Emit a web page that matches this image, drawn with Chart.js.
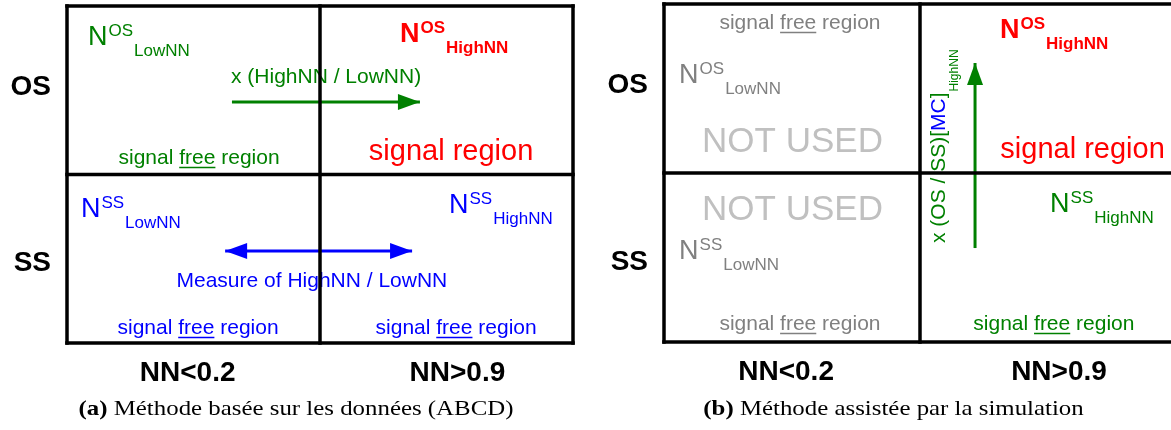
<!DOCTYPE html>
<html><head><meta charset="utf-8">
<script src="https://cdn.jsdelivr.net/npm/chart.js@4/dist/chart.umd.min.js"></script>
<style>
html,body{margin:0;padding:0;background:#fff;overflow:hidden;width:1171px;height:430px;}
#ca{position:absolute;left:0;top:0;}
#cb{position:absolute;left:590px;top:0;}
</style></head><body>
<canvas id="ca" width="590" height="430"></canvas>
<canvas id="cb" width="600" height="430"></canvas>
<script>
// ---------- data ----------
const nnCategories = ['NN<0.2', 'NN>0.9'];
const chargeCategories = ['SS', 'OS'];
const cellEdges = [0, 1, 2];
const captionA = ['(a)', 'Méthode basée sur les données (ABCD)'];
const captionB = ['(b)', 'Méthode assistée par la simulation'];
// arrows (data units of the 2x2 grid)
const arrowExtrapolateA = [{x: 0.652, y: 1.43}, {x: 1.395, y: 1.43}];
const arrowMeasureA = [{x: 0.625, y: 0.546}, {x: 1.364, y: 0.546}];
const arrowExtrapolateB = [{x: 1.215, y: 0.556}, {x: 1.215, y: 1.651}];

// ---------- styling / placement ----------
const SANS = '"Liberation Sans", Arial, Helvetica, sans-serif';
const SERIF = '"Liberation Serif", "Times New Roman", serif';
const GREEN = '#008000', RED = '#ff0000', BLUE = '#0000ff', GRAY = '#808080', LIGHT = '#c0c0c0';
const xTickAt = [0.477, 1.543];
const yTickAt = [0.474, 1.52];

const annotationsA = [
  {t: 'N', x: 0.083, y: 1.769, sup: 'OS', sub: 'LowNN', color: GREEN},
  {t: 'N', x: 1.316, y: 1.786, sup: 'OS', sub: 'HighNN', color: RED, bold: true},
  {t: 'txt', x: 1.024, y: 1.543, text: 'x (HighNN / LowNN)', color: GREEN, size: 21},
  {t: 'sfr', x: 0.522, y: 1.062, color: GREEN},
  {t: 'txt', x: 1.518, y: 1.086, text: 'signal region', color: RED, size: 29},
  {t: 'N', x: 0.055, y: 0.748, sup: 'SS', sub: 'LowNN', color: BLUE},
  {t: 'N', x: 1.510, y: 0.772, sup: 'SS', sub: 'HighNN', color: BLUE},
  {t: 'txt', x: 0.968, y: 0.332, text: 'Measure of HighNN / LowNN', color: BLUE, size: 21},
  {t: 'sfr', x: 0.518, y: 0.053, color: BLUE},
  {t: 'sfr', x: 1.538, y: 0.053, color: BLUE}
];
const annotationsB = [
  {t: 'sfr', x: 0.531, y: 1.852, color: GRAY},
  {t: 'N', x: 0.059, y: 1.533, sup: 'OS', sub: 'LowNN', color: GRAY},
  {t: 'txt', x: 0.502, y: 1.124, text: 'NOT USED', color: LIGHT, size: 35},
  {t: 'txt', x: 0.502, y: 0.722, text: 'NOT USED', color: LIGHT, size: 35},
  {t: 'N', x: 0.059, y: 0.491, sup: 'SS', sub: 'LowNN', color: GRAY},
  {t: 'sfr', x: 0.531, y: 0.071, color: GRAY},
  {t: 'N', x: 1.3125, y: 1.799, sup: 'OS', sub: 'HighNN', color: RED, bold: true},
  {t: 'txt', x: 1.635, y: 1.089, text: 'signal region', color: RED, size: 29},
  {t: 'N', x: 1.508, y: 0.769, sup: 'SS', sub: 'HighNN', color: GREEN},
  {t: 'sfr', x: 1.523, y: 0.071, color: GREEN},
  {t: 'rot', x: 1.098, y: 0.586}
];

function drawN(ctx, px, py, a) {
  const w = a.bold ? 'bold ' : '';
  ctx.fillStyle = a.color; ctx.textAlign = 'left'; ctx.textBaseline = 'alphabetic';
  ctx.font = w + '27px ' + SANS;
  ctx.fillText('N', px, py);
  let x = px + ctx.measureText('N').width + 1;
  ctx.font = w + '17px ' + SANS;
  ctx.fillText(a.sup, x, py - 9);
  x += ctx.measureText(a.sup).width + 1;
  ctx.fillText(a.sub, x, py + 11);
}
function drawSfr(ctx, cx, py, color) {
  ctx.font = '21px ' + SANS; ctx.fillStyle = color; ctx.strokeStyle = color;
  ctx.textAlign = 'left'; ctx.textBaseline = 'alphabetic';
  const parts = ['signal ', 'free', ' region'];
  const ws = parts.map(p => ctx.measureText(p).width);
  let x = cx - (ws[0] + ws[1] + ws[2]) / 2;
  parts.forEach((p, i) => {
    ctx.fillText(p, x, py);
    if (i === 1) {
      ctx.lineWidth = 1.5; ctx.beginPath();
      ctx.moveTo(x, py + 3.5); ctx.lineTo(x + ws[i], py + 3.5); ctx.stroke();
    }
    x += ws[i];
  });
}
function drawRot(ctx, px, py) {
  ctx.save(); ctx.translate(px, py); ctx.rotate(-Math.PI / 2);
  ctx.textAlign = 'left'; ctx.textBaseline = 'alphabetic';
  ctx.font = '21px ' + SANS;
  const parts = [['x (OS / SS)[', GREEN], ['MC', BLUE], [']', GREEN]];
  let x = 0;
  parts.forEach(([s, c]) => { ctx.fillStyle = c; ctx.fillText(s, x, 0); x += ctx.measureText(s).width; });
  ctx.font = '12px ' + SANS; ctx.fillStyle = GREEN;
  ctx.fillText('HighNN', x + 1, 13);
  ctx.restore();
}

const textPlugin = {
  id: 'cellTexts',
  beforeDatasetsDraw(chart, args, opts) {
    const ctx = chart.ctx, sx = chart.scales.x, sy = chart.scales.y;
    ctx.save();
    (opts.items || []).forEach(a => {
      const px = sx.getPixelForValue(a.x), py = sy.getPixelForValue(a.y);
      if (a.t === 'N') drawN(ctx, px, py, a);
      else if (a.t === 'sfr') drawSfr(ctx, px, py, a.color);
      else if (a.t === 'rot') drawRot(ctx, px, py);
      else {
        ctx.font = a.size + 'px ' + SANS; ctx.fillStyle = a.color;
        ctx.textAlign = 'center'; ctx.textBaseline = 'alphabetic';
        ctx.fillText(a.text, px, py);
      }
    });
    ctx.restore();
  },
  afterDatasetsDraw(chart, args, opts) {
    const ctx = chart.ctx, sx = chart.scales.x, sy = chart.scales.y;
    ctx.save();
    ctx.strokeStyle = '#000'; ctx.lineWidth = 3.5; ctx.lineCap = 'square';
    const x0 = sx.getPixelForValue(cellEdges[0]), x2 = sx.getPixelForValue(cellEdges[cellEdges.length - 1]);
    const y0 = sy.getPixelForValue(cellEdges[0]), y2 = sy.getPixelForValue(cellEdges[cellEdges.length - 1]);
    cellEdges.forEach(v => {
      const yy = sy.getPixelForValue(v), xx = sx.getPixelForValue(v);
      ctx.beginPath(); ctx.moveTo(x0, yy); ctx.lineTo(x2, yy); ctx.stroke();
      ctx.beginPath(); ctx.moveTo(xx, y0); ctx.lineTo(xx, y2); ctx.stroke();
    });
    chart.data.datasets.forEach(ds => {
      const pts = ds.data;
      (ds.heads || []).forEach(h => {
        const tip = pts[h === 'end' ? pts.length - 1 : 0];
        const from = pts[h === 'end' ? pts.length - 2 : 1];
        const tx = sx.getPixelForValue(tip.x), ty = sy.getPixelForValue(tip.y);
        const fx = sx.getPixelForValue(from.x), fy = sy.getPixelForValue(from.y);
        const ang = Math.atan2(ty - fy, tx - fx);
        const L = 22, W = 8;
        ctx.fillStyle = ds.borderColor;
        ctx.beginPath();
        ctx.moveTo(tx, ty);
        ctx.lineTo(tx - L * Math.cos(ang) + W * Math.sin(ang), ty - L * Math.sin(ang) - W * Math.cos(ang));
        ctx.lineTo(tx - L * Math.cos(ang) - W * Math.sin(ang), ty - L * Math.sin(ang) + W * Math.cos(ang));
        ctx.closePath(); ctx.fill();
      });
    });
    ctx.restore();
  },
  afterDraw(chart, args, opts) {
    const ctx = chart.ctx, cap = opts.caption;
    if (!cap) return;
    const stretch = 1.13;
    ctx.save();
    ctx.fillStyle = '#000'; ctx.textAlign = 'left'; ctx.textBaseline = 'alphabetic';
    ctx.font = 'bold 22px ' + SERIF;
    const w1 = ctx.measureText(cap[0] + ' ').width;
    ctx.font = '22px ' + SERIF;
    const w2 = ctx.measureText(cap[1]).width;
    ctx.translate(opts.capX, opts.capY);
    ctx.scale(stretch, 1);
    const x = -(w1 + w2) / 2;
    ctx.font = 'bold 22px ' + SERIF; ctx.fillText(cap[0], x, 0);
    ctx.font = '22px ' + SERIF; ctx.fillText(cap[1], x + w1, 0);
    ctx.restore();
  }
};

function makeChart(id, datasets, items, caption, capX, yWidth, xHeight, padTop, padRight) {
  return new Chart(document.getElementById(id), {
    type: 'scatter',
    data: {datasets},
    options: {
      responsive: false, animation: false,
      layout: {padding: {left: 0, top: padTop, right: padRight, bottom: 0}},
      plugins: {legend: {display: false}, tooltip: {enabled: false},
        cellTexts: {items, caption, capX, capY: 415}},
      scales: {
        x: {type: 'linear', min: 0, max: 2,
          afterBuildTicks: s => { s.ticks = xTickAt.map(v => ({value: v})); },
          afterFit: s => { s.height = xHeight; s.paddingLeft = 0; s.paddingRight = 0; s.paddingTop = 0; s.paddingBottom = 0; },
          ticks: {callback: (v, i) => nnCategories[i], font: {family: SANS, size: 28, weight: 'bold'},
            color: '#000', padding: 13, maxRotation: 0, autoSkip: false},
          grid: {display: false, drawTicks: false}, border: {display: false}},
        y: {type: 'linear', min: 0, max: 2,
          afterBuildTicks: s => { s.ticks = yTickAt.map(v => ({value: v})); },
          afterFit: s => { s.width = yWidth; s.paddingTop = 0; s.paddingBottom = 0; s.paddingLeft = 0; s.paddingRight = 0; },
          ticks: {callback: (v, i) => chargeCategories[i], font: {family: SANS, size: 28, weight: 'bold'},
            color: '#000', padding: 16, autoSkip: false},
          grid: {display: false, drawTicks: false}, border: {display: false}}
      }
    },
    plugins: [textPlugin]
  });
}
const line = (data, color, heads) => ({data, showLine: true, borderColor: color, backgroundColor: color,
  borderWidth: 3, pointRadius: 0, heads, clip: false});

makeChart('ca', [line(arrowExtrapolateA, GREEN, ['end']), line(arrowMeasureA, BLUE, ['start', 'end'])],
  annotationsA, captionA, 296, 67, 87, 6, 17);
makeChart('cb', [line(arrowExtrapolateB, GREEN, ['end'])],
  annotationsB, captionB, 303.5, 74, 88, 4, 14);
</script>
</body></html>
